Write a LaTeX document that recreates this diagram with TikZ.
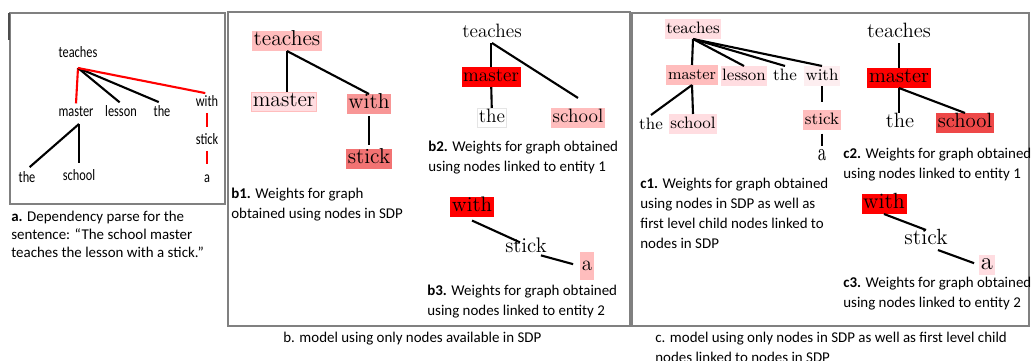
\documentclass[tikz,border=0pt]{standalone}
\usepackage{fontspec}
\setsansfont{Carlito}
\newfontfamily\depfont{Carlito}[FakeStretch=0.78]
\usetikzlibrary{positioning}
\definecolor{sdpframe}{HTML}{808080}
\definecolor{sdpred}{HTML}{FF0000}
\definecolor{sdpdeep}{HTML}{EE4848}
\definecolor{sdpmid}{HTML}{F27373}
\definecolor{sdpwarm}{HTML}{F89696}
\definecolor{sdppink}{HTML}{FFBDBD}
\definecolor{sdppale}{HTML}{FFDDE1}
\definecolor{sdpfaint}{HTML}{FDEEF0}
\tikzset{
  panel/.style={draw=sdpframe, line width=0.7pt},
  dep/.style={font=\depfont\fontsize{9}{9}\selectfont, inner sep=1pt, text height=0.62em, text depth=0pt},
  wt/.style={font=\rmfamily\fontsize{#1}{#1}\selectfont, inner sep=0.9pt, text height=0.7em, text depth=0.22em},
  lnk/.style={line width=1.2pt, black},
  hit/.style={line width=1.2pt, sdpred},
  capt/.style={font=\sffamily\fontsize{8.5}{11.4}\selectfont, align=left, anchor=north west, inner sep=0pt},
}

\begin{document}
\begin{tikzpicture}[x=0.2mm, y=-0.2mm]
  \path[use as bounding box, fill=white] (0,0) rectangle (1031,360);

  % a. dependency parse
  \draw[panel] (10,13) rectangle (225,204);
  \draw[sdpframe!60!black, line width=1pt] (9,13) -- (9,40);
  \node[dep] (ateaches) at (78,52) {teaches};
  \node[dep] (amaster) at (76,111) {master};
  \node[dep] (alesson) at (121,111) {lesson};
  \node[dep] (athe) at (162,111) {the};
  \node[dep] (awith) at (207,101) {with};
  \node[dep] (astick) at (207,139) {stick};
  \node[dep] (aa) at (207,177) {a};
  \node[dep] (athetwo) at (27,177) {the};
  \node[dep] (aschool) at (79,175) {school};
  \coordinate (ahub) at (78,68);
  \coordinate (amhub) at (79,124);
  \draw[hit] (ahub) -- (amaster.north);
  \draw[lnk, shorten >=1pt] (ahub) -- (alesson.north);
  \draw[lnk, shorten >=2pt] (ahub) -- (athe.north);
  \draw[hit, shorten >=1pt] (ahub) -- (awith.north);
  \draw[hit, shorten <=2.5pt, shorten >=2.5pt] (awith) -- (astick);
  \draw[hit, shorten <=2.5pt, shorten >=3pt] (astick) -- (aa);
  \draw[lnk, shorten >=2pt] (amhub) -- (athetwo.north);
  \draw[lnk, shorten >=2.5pt] (amhub) -- (aschool.north);
  \node[capt, font=\sffamily\fontsize{8.5}{10.2}\selectfont] (acap) at (11,211)
    {\textbf{a.} Dependency parse for the\\sentence: “The school master\\teaches the lesson with a stick.”};

  % b. only SDP nodes
  \draw[panel] (228,12) rectangle (630,326);
  \node[wt=12.3, fill=sdppink] (bteaches) at (287,41) {teaches};
  \node[wt=12.3, fill=sdppale, draw=sdppink, line width=0.4pt] (bmaster) at (284,102) {master};
  \node[wt=12.3, fill=sdpwarm] (bwith) at (369,104) {with};
  \node[wt=12.3, fill=sdpmid] (bstick) at (369,159) {stick};
  \draw[lnk] (bteaches.south) -- (bteaches.south |- bmaster.north);
  \draw[lnk] (bteaches.south) -- (bwith.north);
  \draw[lnk, shorten <=1pt, shorten >=2pt] (bwith) -- (bstick);
  \node[capt] (bcapone) at (231,188) {\textbf{b1.} Weights for graph\\obtained using nodes in SDP};

  \node[wt=11] (bteachestwo) at (492,33) {teaches};
  \node[wt=11, fill=sdpred] (bmastertwo) at (491,77) {master};
  \node[wt=11, fill=white, draw=black!10, line width=0.4pt] (bthe) at (492,118) {the};
  \node[wt=11, fill=sdppink] (bschool) at (578,118) {school};
  \draw[lnk] (bteachestwo.south -| bmastertwo) -- (bmastertwo.north);
  \draw[lnk] (bteachestwo.south) -- ([yshift=5.7pt]bschool.north);
  \draw[lnk] (bmastertwo) -- (bthe);
  \node[capt] (bcaptwo) at (428,141) {\textbf{b2.} Weights for graph obtained\\using nodes linked to entity 1};

  \node[wt=12, fill=sdpred] (bwiththree) at (472,207) {with};
  \node[wt=12] (bstickthree) at (526,248) {stick};
  \node[wt=12, fill=sdppink, minimum height=15.5pt] (ba) at (587,266) {a};
  \draw[lnk] ([yshift=-2pt]bwiththree.south) -- ([xshift=-3.4pt, yshift=-2.5pt]bstickthree.north);
  \draw[lnk, shorten >=4pt] ([xshift=8.5pt, yshift=1.5pt]bstickthree.south) -- (ba.west);
  \node[capt] (bcapthree) at (427,285) {\textbf{b3.} Weights for graph obtained\\using nodes linked to entity 2};

  \node[capt] (bfoot) at (283,332) {b. model using only nodes available in SDP};

  % c. SDP nodes plus first level children
  \draw[panel] (632,13) rectangle (1029,326);
  \node[wt=9.4, fill=sdppale] (cteaches) at (693,29) {teaches};
  \node[wt=9, fill=sdppink] (cmaster) at (692,75) {master};
  \node[wt=9.4, fill=sdppale] (clesson) at (744,76) {lesson};
  \node[wt=9.4] (cthe) at (785,76) {the};
  \node[wt=9.4, fill=sdpfaint] (cwith) at (822,76) {with};
  \node[wt=9.4] (cthetwo) at (651,125) {the};
  \node[wt=9.4, fill=sdppale] (cschool) at (693,124) {school};
  \node[wt=9.4, fill=sdppink] (cstick) at (822,120) {stick};
  \node[wt=9.4] (ca) at (822,156) {\scalebox{1}[1.5]{a}};
  \foreach \k in {cmaster,clesson,cthe,cwith}
    \draw[lnk] (cteaches.south) -- (\k.north);
  \draw[lnk, shorten >=4.5pt] (cwith) -- (cstick);
  \draw[lnk, shorten <=2pt] (cstick) -- (ca);
  \draw[lnk] (cmaster.south) -- (cthetwo.north);
  \draw[lnk] (cmaster.south) -- (cschool.north);
  \node[capt] (ccapone) at (640,178)
    {\textbf{c1.} Weights for graph obtained\\using nodes in SDP as well as\\first level child nodes linked to\\nodes in SDP};

  \node[wt=11.8] (cteachestwo) at (899,33) {teaches};
  \node[wt=11.8, fill=sdpred] (cmastertwo) at (899,78) {master};
  \node[wt=11.8] (cthethree) at (900,123) {the};
  \node[wt=11.8, fill=sdpdeep] (cschooltwo) at (965,123) {school};
  \draw[lnk] (cteachestwo) -- (cmastertwo);
  \draw[lnk] (cmastertwo.south) -- (cmastertwo.south |- cthethree.north);
  \draw[lnk] (cmastertwo.south) -- (cschooltwo.north);
  \node[capt] (ccaptwo) at (843,148) {\textbf{c2.} Weights for graph obtained\\using nodes linked to entity 1};

  \node[wt=12.5, fill=sdpred] (cwiththree) at (884,204) {with};
  \node[wt=12.5] (cstickthree) at (926,240) {stick};
  \node[wt=14, fill=sdppale] (caa) at (987,265) {a};
  \draw[lnk] (cwiththree.south) -- (cstickthree.north);
  \draw[lnk, shorten >=3pt] ([xshift=6.8pt]cstickthree.south) -- (caa.west);
  \node[capt] (ccapthree) at (843,277) {\textbf{c3.} Weights for graph obtained\\using nodes linked to entity 2};

  \node[capt] (cfoot) at (655,332) {c. model using only nodes in SDP as well as first level child\\nodes linked to nodes in SDP};
\end{tikzpicture}
\end{document}
